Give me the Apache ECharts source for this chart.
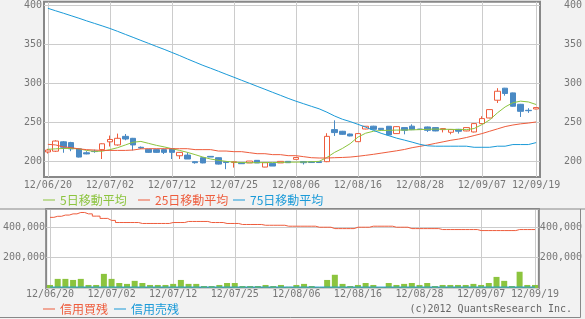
<!DOCTYPE html>
<html><head><meta charset="utf-8">
<script src="https://cdn.jsdelivr.net/npm/echarts@6/dist/echarts.min.js"></script>
<style>html,body{margin:0;padding:0;background:#f2f2f2}#c{width:585px;height:319px}</style>
</head><body><div id="c"></div>
<script>
const dates = ['12/06/20','12/06/21','12/06/22','12/06/25','12/06/26','12/06/27','12/06/28','12/06/29',
'12/07/02','12/07/03','12/07/04','12/07/05','12/07/06','12/07/09','12/07/10','12/07/11','12/07/12','12/07/13',
'12/07/17','12/07/18','12/07/19','12/07/20','12/07/23','12/07/24','12/07/25','12/07/26','12/07/27','12/07/30','12/07/31',
'12/08/01','12/08/02','12/08/03','12/08/06','12/08/07','12/08/08','12/08/09','12/08/10','12/08/13','12/08/14','12/08/15',
'12/08/16','12/08/17','12/08/20','12/08/21','12/08/22','12/08/23','12/08/24','12/08/27','12/08/28','12/08/29','12/08/30','12/08/31',
'12/09/03','12/09/04','12/09/05','12/09/06','12/09/07','12/09/10','12/09/11','12/09/12','12/09/13','12/09/14','12/09/18','12/09/19'];
const tickLabels = ['12/06/20','12/07/02','12/07/12','12/07/25','12/08/06','12/08/16','12/08/28','12/09/07','12/09/19'];
const priceTicks = [200,250,300,350,400];
const openP  = [212,213,225,224,216,211,213,215,225,221,232,229.5,218,215.4,215,215,216,207.2,208,199.6,204.7,206.4,204.7,199.6,198.5,198.3,198,201.3,192.7,197.4,198,200,202.6,199.8,199.6,199.6,199.6,240.6,238.5,235,225.2,241.4,245,242.3,244.9,235.5,243.2,245,241.3,244,243.2,240.6,237.2,241,238.9,237.6,248.3,255.5,278.2,293.6,287.6,273,265.3,267];
const closeP = [214.5,226,218,216,205.5,209.5,212.5,222.5,228,229.5,228.6,221,217,211.5,211.5,211.5,211.5,211.5,203,198.3,198,205.5,196.5,198.5,199.5,197,200.4,198,198.3,194,200,198.3,205,198.3,198.5,198.5,232,236.8,234.6,232.5,235.5,244.9,241,240.6,233.8,244.4,239.7,240.6,240.8,239.7,238.9,241.9,240.6,238.5,243.2,248.3,254.7,266.2,289.7,286.8,270.5,264,264.8,268.8];
const lowP   = [210,212,211,213,205,209,211,203,219,220,227,214,216,211,211,209.4,203,203,203,197,197.5,205.5,196,190,192,197,198,198,192.5,194,198,198,202.5,196,198.3,198,199,232.5,234,232,225,241,240.5,240.3,233,235,234.6,240,240.5,237.6,238.5,237,234.6,235.5,238.5,237,248,255,274.7,284,270,256.8,262,266.5];
const highP  = [216,227,226,225,217,213,215,223,233,235.5,235,230,219,216,216,216,216.5,212,211.5,200,205,206.5,205,200,200,198.5,200.5,201.5,198.5,197.5,200,200.2,205.2,200,199.8,200,236,252.5,239,235.5,236,245,245.5,242.5,245,245,243.5,247.4,241.5,244.5,243.5,242.3,241,241.5,243.5,249,257.7,266.5,293.6,294,288,273.5,268,269];
const ma5  = [215.4,216,216.5,216.5,216,214,212.8,213,215,217.5,221,224.5,225.5,223,220.5,218.5,216.2,214,211.5,208.6,205.5,203,201.3,200,199,198.5,198.3,198.3,198.5,198.5,198.7,199,199,199.2,199.5,200,205,211.5,216.5,222.6,231,236,238.5,239.5,239.7,240,240,240.3,240.6,241,241.3,241,241,240.6,240.6,242,247,253,262,269.6,275,277,276,272.7];
const ma25 = [221.8,221,218.5,217.5,216,215,214.5,214,214,214,214,214.5,216,216.2,216.2,216.2,216.2,216.2,216.2,215,215,215,213.2,213.2,212.4,212.4,211.1,209.8,209.8,208.6,208.6,207.3,207.3,206,204.7,204.3,204.3,204.7,205,205.5,206.5,207.7,209,210.5,212,213.5,215.2,217.5,219.2,221,223,225,227,228.5,230.5,233,235.5,238.5,241.5,244.5,246.5,248,249,250.4];
const ma75 = [395.8,392.6,389.5,386.3,383.1,379.7,376.5,373.3,370,366.3,362.4,358.6,354.7,350.9,347,343.3,339.3,335.3,331,326.9,322.8,319.1,315.3,311.4,307.6,303.7,299.9,296,292.2,288.3,284.5,280.6,277,273.7,270.4,267.2,262.9,258,253.9,250.9,247.4,243.8,239.7,235.9,232.8,229.7,227.2,224.6,221.8,219.9,219.4,219.4,219.4,219.4,219.4,218,218,218,219.4,219.4,221.5,221.5,221.5,224];
const volume = [20000,60000,60000,53000,60000,20000,20000,93000,60000,33000,27000,47000,33000,20000,20000,20000,27000,53000,27000,27000,13000,13000,20000,33000,33000,13000,13000,13000,20000,13000,20000,8000,20000,27000,13000,5000,53000,87000,27000,13000,20000,33000,20000,5000,33000,20000,27000,33000,20000,33000,13000,20000,20000,20000,20000,27000,20000,33000,73000,47000,13000,107000,20000,20000];
const marginBuy = [465000,472000,480000,488000,497000,488000,473000,458000,445000,431000,431000,431000,424700,424700,424700,424700,431000,431000,438000,438000,438000,431000,431000,424700,424700,418000,418000,418000,413000,413000,413000,406700,406700,406700,406700,400000,400000,391000,391000,391000,400000,400000,406700,406700,406700,400000,400000,391000,391000,391000,391000,384700,384700,384700,384700,384700,378000,378000,378000,378000,378000,384700,384700,384700];
const marginSell = [6000,6000,6000,6000,6000,6000,6000,6000,6000,6000,6000,6000,6000,6000,6000,6000,6000,6000,6000,6000,6000,6000,6000,6000,6000,6000,6000,6000,6000,6000,6000,6000,6000,6000,6000,6000,6000,6000,6000,6000,6000,6000,6000,6000,6000,6000,6000,6000,6000,6000,6000,6000,6000,6000,6000,6000,6000,6000,6000,6000,6000,6000,6000,6000];

const RED='#ee5c3c', BLUEC='#4a8ac4', BLUEL='#1a9ad8', GREEN='#8cc43e', GRIDC='#cccccc', AXISC='#888888', LABELC='#777777';
const mono='"DejaVu Sans Mono", monospace', cjk='"Noto Sans CJK JP", sans-serif';
const showTick=(i,v)=>tickLabels.indexOf(v)>=0;
const candle=dates.map((d,i)=>[openP[i],closeP[i],lowP[i],highP[i]]);
const vLines=tickLabels.map(t=>({xAxis:t}));
const hLines=priceTicks.map(v=>({yAxis:v}));
const gl=(data)=>({silent:true,symbol:'none',z:1,label:{show:false},lineStyle:{color:GRIDC,width:1,type:'solid'},emphasis:{disabled:true},animation:false,data});
const xLab=(m)=>({interval:showTick,color:LABELC,fontFamily:mono,fontSize:10,margin:m});
const yLab=(o)=>Object.assign({color:LABELC,fontFamily:mono,fontSize:10},o);
const leg=(name,color,left,top)=>({left,top,padding:0,itemWidth:12,itemHeight:1,icon:'rect',selectedMode:false,
  textStyle:{fontFamily:cjk,fontSize:12,color},data:[{name,textStyle:{color}}]});
const chart=echarts.init(document.getElementById('c'));
chart.setOption({
  animation:false,
  backgroundColor:'#f2f2f2',
  grid:[
    {left:44,right:44,top:1,height:176,show:true,backgroundColor:'#fff',borderColor:AXISC,borderWidth:2},
    {left:44,right:44,top:209,height:79,show:true,backgroundColor:'#fff',borderColor:AXISC,borderWidth:2}
  ],
  xAxis:[
    {type:'category',gridIndex:0,data:dates,axisLine:{show:false},axisTick:{show:false},splitLine:{show:false},axisLabel:xLab(3)},
    {type:'category',gridIndex:1,data:dates,axisLine:{show:false},axisTick:{show:false},splitLine:{show:false},axisLabel:xLab(1)}
  ],
  yAxis:[
    {type:'value',gridIndex:0,min:180,max:404,interval:10,position:'left',axisLine:{show:false},axisTick:{show:false},splitLine:{show:false},
     axisLabel:yLab({margin:2,formatter:v=>priceTicks.includes(v)?String(v):''})},
    {type:'value',gridIndex:0,min:180,max:404,interval:10,position:'right',axisLine:{show:false},axisTick:{show:false},splitLine:{show:false},
     axisLabel:yLab({margin:42,align:'right',formatter:v=>priceTicks.includes(v)?String(v):''})},
    {type:'value',gridIndex:1,min:0,max:520000,interval:200000,position:'left',axisLine:{show:false},axisTick:{show:false},
     splitLine:{show:true,lineStyle:{color:GRIDC}},
     axisLabel:yLab({margin:1,showMinLabel:false,showMaxLabel:false,formatter:v=>(v===0||v%200000)?'':v.toLocaleString('en-US')})},
    {type:'value',gridIndex:1,min:0,max:520000,interval:200000,position:'right',axisLine:{show:false},axisTick:{show:false},splitLine:{show:false},
     axisLabel:yLab({margin:1,showMinLabel:false,showMaxLabel:false,formatter:v=>(v===0||v%200000)?'':v.toLocaleString('en-US')})}
  ],
  legend:[
    leg('5日移動平均',GREEN,43,194),
    leg('25日移動平均',RED,138,194),
    leg('75日移動平均',BLUEL,233,194),
    leg('信用買残',RED,43,303),
    leg('信用売残',BLUEL,114,303)
  ],
  graphic:[
    {type:'line',shape:{x1:0,y1:209,x2:585,y2:209},style:{stroke:AXISC,lineWidth:1},z:10,silent:true},
    {type:'polyline',shape:{points:[[580.5,209],[580.5,317.5],[0,317.5]]},style:{stroke:AXISC,lineWidth:1,fill:null},z:10,silent:true},
    {type:'text',right:13,top:304,style:{text:'(c)2012 QuantsResearch Inc.',fill:'#666',font:'10px "DejaVu Sans Mono", monospace'},silent:true}
  ],
  series:[
    {type:'candlestick',name:'株価',xAxisIndex:0,yAxisIndex:0,data:candle,barWidth:6,
     itemStyle:{color:'#ffffff',color0:BLUEC,borderColor:RED,borderColor0:BLUEC,borderWidth:1},
     markLine:gl(vLines.concat(hLines))},
    {type:'line',name:'5日移動平均',xAxisIndex:0,yAxisIndex:0,data:ma5,symbol:'none',color:GREEN,lineStyle:{width:1,color:GREEN},z:3},
    {type:'line',name:'25日移動平均',xAxisIndex:0,yAxisIndex:0,data:ma25,symbol:'none',color:RED,lineStyle:{width:1,color:RED},z:3},
    {type:'line',name:'75日移動平均',xAxisIndex:0,yAxisIndex:0,data:ma75,symbol:'none',color:BLUEL,lineStyle:{width:1,color:BLUEL},z:3},
    {type:'bar',name:'出来高',xAxisIndex:1,yAxisIndex:2,data:volume,barWidth:6,itemStyle:{color:GREEN},markLine:gl(vLines)},
    {type:'line',name:'信用買残',xAxisIndex:1,yAxisIndex:2,data:marginBuy,step:'middle',symbol:'none',color:RED,lineStyle:{width:1,color:RED},z:3},
    {type:'line',name:'信用売残',xAxisIndex:1,yAxisIndex:2,data:marginSell,symbol:'none',color:BLUEL,lineStyle:{width:1,color:BLUEL},z:3}
  ]
});
</script></body></html>
